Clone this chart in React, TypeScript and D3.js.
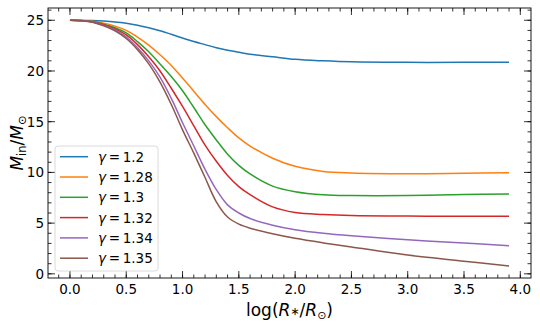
import React from "react";
import * as d3 from "d3";

const logR = [0, 0.1, 0.2, 0.3, 0.4, 0.5, 0.6, 0.7, 0.8, 0.9, 1.0, 1.1, 1.2, 1.3, 1.4, 1.5, 1.6, 1.8, 2.0, 2.25, 2.5, 3.0, 3.5, 3.9];

const gammas = ["1.2", "1.28", "1.3", "1.32", "1.34", "1.35"];
const colors = ["#1f77b4", "#ff7f0e", "#2ca02c", "#d62728", "#9467bd", "#8c564b"];

const mG120 = [25, 24.99, 24.97, 24.92, 24.84, 24.71, 24.52, 24.27, 23.97, 23.62, 23.25, 22.9, 22.6, 22.3, 22.05, 21.85, 21.65, 21.4, 21.15, 21.0, 20.9, 20.85, 20.85, 20.85];
const mG128 = [25, 24.98, 24.9, 24.72, 24.42, 24.0, 23.35, 22.55, 21.6, 20.55, 19.3, 18.0, 16.7, 15.5, 14.4, 13.4, 12.6, 11.4, 10.6, 10.1, 9.95, 9.88, 9.92, 9.96];
const mG130 = [25, 24.97, 24.87, 24.62, 24.27, 23.75, 22.9, 21.9, 20.7, 19.45, 18.05, 16.4, 14.7, 13.2, 11.8, 10.7, 9.85, 8.65, 8.1, 7.8, 7.72, 7.72, 7.82, 7.87];
const mG132 = [25, 24.96, 24.85, 24.55, 24.15, 23.55, 22.6, 21.4, 20.0, 18.3, 16.5, 14.6, 12.7, 11.1, 9.7, 8.6, 7.8, 6.6, 6.05, 5.85, 5.75, 5.7, 5.68, 5.68];
const mG134 = [25, 24.96, 24.83, 24.5, 24.05, 23.35, 22.3, 21.0, 19.4, 17.3, 14.9, 12.6, 10.3, 8.3, 6.8, 6.0, 5.45, 4.8, 4.35, 4.0, 3.75, 3.35, 3.05, 2.76];
const mG135 = [25, 24.95, 24.8, 24.45, 23.95, 23.2, 22.1, 20.7, 18.9, 16.7, 14.2, 11.9, 9.5, 7.1, 5.6, 4.9, 4.5, 3.95, 3.5, 3.05, 2.65, 1.85, 1.25, 0.78];

const seriesValues = [mG120, mG128, mG130, mG132, mG134, mG135];

const xTicks = [0, 0.5, 1.0, 1.5, 2.0, 2.5, 3.0, 3.5, 4.0];
const yTicks = [0, 5, 10, 15, 20, 25];

const W = 540;
const H = 324;
const m = { left: 48, top: 8, right: 531, bottom: 278 };
const font = "DejaVu Sans, sans-serif";

export default function App() {
  const x = d3.scaleLinear().domain([-0.195, 4.095]).range([m.left, m.right]);
  const y = d3.scaleLinear().domain([-0.41, 26.21]).range([m.bottom, m.top]);

  const line = d3
    .line<[number, number]>()
    .x((d) => x(d[0]))
    .y((d) => y(d[1]))
    .curve(d3.curveCatmullRom.alpha(0.5));

  const xMinor = d3.range(-1, 41).map((i) => i / 10).filter((v) => v >= -0.195 && v <= 4.095);
  const yMinor = d3.range(0, 27);

  const tick = (key: string, x1: number, y1: number, x2: number, y2: number) => (
    <line key={key} x1={x1} y1={y1} x2={x2} y2={y2} stroke="#000" strokeWidth={0.8} />
  );

  const legendX = 55;
  const legendY = 146;
  const rowH = 20.3;

  return (
    <div style={{ position: "absolute", left: 0, top: 0 }}>
      <svg width={W} height={H} style={{ display: "block", background: "#fff" }}>
        <g>
          {seriesValues.map((vals, i) => (
            <path
              key={gammas[i]}
              d={line(logR.map((r, j) => [r, vals[j]] as [number, number])) || ""}
              fill="none"
              stroke={colors[i]}
              strokeWidth={1.5}
            />
          ))}
        </g>

        {/* minor ticks */}
        {xMinor.map((v) => (
          <g key={"xm" + v}>
            {tick("b", x(v), m.bottom, x(v), m.bottom - 3.5)}
            {tick("t", x(v), m.top, x(v), m.top + 3.5)}
          </g>
        ))}
        {yMinor.map((v) => (
          <g key={"ym" + v}>
            {tick("l", m.left, y(v), m.left + 3.5, y(v))}
            {tick("r", m.right, y(v), m.right - 3.5, y(v))}
          </g>
        ))}

        {/* major ticks */}
        {xTicks.map((v) => (
          <g key={"x" + v}>
            {tick("b", x(v), m.bottom, x(v), m.bottom - 7)}
            {tick("t", x(v), m.top, x(v), m.top + 7)}
            <text x={x(v)} y={294} fontFamily={font} fontSize={13.5} textAnchor="middle">
              {v.toFixed(1)}
            </text>
          </g>
        ))}
        {yTicks.map((v) => (
          <g key={"y" + v}>
            {tick("l", m.left, y(v), m.left + 7, y(v))}
            {tick("r", m.right, y(v), m.right - 7, y(v))}
            <text x={44} y={y(v) + 5} fontFamily={font} fontSize={13.5} textAnchor="end">
              {v}
            </text>
          </g>
        ))}

        <rect
          x={m.left}
          y={m.top}
          width={m.right - m.left}
          height={m.bottom - m.top}
          fill="none"
          stroke="#000"
          strokeWidth={0.9}
        />

        {/* legend */}
        <rect
          x={legendX}
          y={legendY}
          width={103}
          height={125}
          rx={3}
          fill="#fff"
          fillOpacity={0.8}
          stroke="#d0d0d0"
          strokeWidth={0.8}
        />
        {gammas.map((g, i) => {
          const cy = legendY + 10.7 + i * rowH;
          return (
            <g key={"lg" + g}>
              <line x1={60} x2={88} y1={cy} y2={cy} stroke={colors[i]} strokeWidth={1.5} />
              <text x={98} y={cy + 5} fontFamily={font} fontSize={13.5}>
                <tspan fontStyle="italic">γ</tspan>
                <tspan>{"\u2009=\u2009" + g}</tspan>
              </text>
            </g>
          );
        })}

        {/* axis labels */}
        <text x={(m.left + m.right) / 2} y={316} fontFamily={font} fontSize={17} textAnchor="middle">
          log(<tspan fontStyle="italic">R</tspan>
          <tspan fontSize={11} dy={-1}>∗</tspan>
          <tspan dy={1}>/</tspan>
          <tspan fontStyle="italic">R</tspan>
          <tspan fontSize={11} dy={3}>⊙</tspan>
          <tspan dy={-3}>)</tspan>
        </text>
        <text
          transform={`translate(23,${(m.top + m.bottom) / 2}) rotate(-90)`}
          fontFamily={font}
          fontSize={17}
          textAnchor="middle"
        >
          <tspan fontStyle="italic">M</tspan>
          <tspan fontSize={11.5} dy={3}>in</tspan>
          <tspan dy={-3}>/</tspan>
          <tspan fontStyle="italic">M</tspan>
          <tspan fontSize={11.5} dy={3}>⊙</tspan>
        </text>
      </svg>
    </div>
  );
}
